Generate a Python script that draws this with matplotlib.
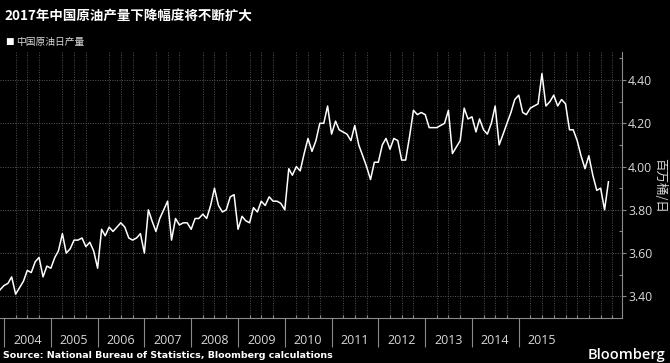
import matplotlib
matplotlib.use("Agg")
import matplotlib.pyplot as plt
import matplotlib.dates as mdates
import pandas as pd

# monthly crude output, million barrels per day
start_month = "2003-12-01"
output_mbd = [
    3.43, 3.45, 3.46, 3.49, 3.41, 3.44, 3.47, 3.52, 3.51, 3.56, 3.58, 3.49,
    3.54, 3.53, 3.58, 3.61, 3.69, 3.60, 3.62, 3.66, 3.66, 3.67, 3.63, 3.65,
    3.61, 3.53, 3.71, 3.68, 3.72, 3.70, 3.72, 3.74, 3.72, 3.67,
    3.66, 3.67, 3.69, 3.60, 3.80, 3.75, 3.70, 3.76, 3.80, 3.84, 3.66, 3.76,
    3.73, 3.74, 3.74, 3.71, 3.76, 3.76, 3.78, 3.76, 3.82, 3.90, 3.82, 3.79,
    3.80, 3.86, 3.87, 3.71, 3.77, 3.75, 3.74, 3.81,
    3.79, 3.84, 3.82, 3.86, 3.84, 3.84, 3.83, 3.80, 3.99, 3.96, 4.00, 3.98,
    4.06, 4.13, 4.07, 4.12, 4.20, 4.20, 4.28, 4.15, 4.21, 4.17, 4.16, 4.15,
    4.12, 4.19, 4.10, 4.05, 4.00, 3.94, 4.02, 4.02,
    4.10, 4.13, 4.08, 4.13, 4.12, 4.03, 4.03, 4.14, 4.26, 4.24, 4.25, 4.24,
    4.18, 4.18, 4.18, 4.19, 4.20, 4.26, 4.06, 4.09, 4.12, 4.27, 4.22, 4.23,
    4.16, 4.22, 4.17, 4.15, 4.20, 4.28, 4.10,
    4.15, 4.20, 4.25, 4.31, 4.33, 4.25, 4.24, 4.27, 4.28, 4.29, 4.43, 4.28,
    4.30, 4.33, 4.28, 4.31, 4.29, 4.17, 4.17, 4.12, 4.05, 3.99, 4.05, 3.96,
    3.89, 3.90, 3.80, 3.93,
]
months = pd.date_range(start_month, periods=len(output_mbd), freq="MS")

year_labels = list(range(2004, 2016))
y_ticks = [3.40, 3.60, 3.80, 4.00, 4.20, 4.40]

title = "2017年中国原油产量下降幅度将不断扩大"
series_name = "中国原油日产量"
unit = "百万桶/日"
source = "Source: National Bureau of Statistics, Bloomberg calculations"

cjk = ["Noto Sans CJK SC", "DejaVu Sans"]
grey = "#8a8a8a"
txt = "#d8d8d8"

fig = plt.figure(figsize=(6.7, 3.63), dpi=100, facecolor="black")
ax = fig.add_axes([0.0, 0.124, 0.928, 0.733], facecolor="black")

ax.plot(months, output_mbd, color="white", lw=1.1)

ax.set_xlim(months[0], pd.Timestamp("2017-03-15"))
ax.set_ylim(3.30, 4.53)

# x: long year ticks, quarterly grid, labels centred in each year
ax.set_xticks([pd.Timestamp(f"{y}-01-01") for y in year_labels])
ax.xaxis.set_major_formatter(plt.NullFormatter())
ax.xaxis.set_minor_locator(mdates.MonthLocator(bymonth=[1, 4, 7, 10]))
ax.tick_params(axis="x", which="major", direction="out", length=21,
               width=0.8, color=grey)
ax.tick_params(axis="x", which="minor", direction="in", length=2.5,
               width=0.8, color=grey)
for y in year_labels:
    ax.text(pd.Timestamp(f"{y}-07-01"), -0.083, str(y),
            transform=ax.get_xaxis_transform(), ha="center", va="center",
            color=txt, fontsize=9, family="Open Sans")

# y on the right
ax.yaxis.tick_right()
ax.set_yticks(y_ticks)
ax.set_yticks([3.5, 3.7, 3.9, 4.1, 4.3, 4.5], minor=True)
ax.set_yticklabels([f"{v:.2f}" for v in y_ticks], color=txt, fontsize=8.8,
                   family="Open Sans")
ax.tick_params(axis="y", which="major", direction="out", length=3,
               width=0.8, color=grey, pad=1.5)
ax.tick_params(axis="y", which="minor", direction="in", length=2.5,
               width=0.8, color=grey)

ax.grid(True, which="minor", axis="x", color="#505050", ls=(0, (1, 1.5)), lw=0.7)
ax.grid(True, which="major", axis="y", color="#5a5a5a", ls=(0, (1, 1.5)), lw=0.7)

for side in ("top", "left"):
    ax.spines[side].set_visible(False)
for side in ("bottom", "right"):
    ax.spines[side].set_color(grey)
    ax.spines[side].set_linewidth(0.8)

fig.text(0.984, 0.49, unit, rotation=270, ha="center", va="center",
         color=txt, fontsize=9, family=cjk)

fig.text(0.007, 0.953, title, ha="left", va="center", color="white",
         fontsize=9.7, fontweight="bold", family=cjk)
fig.text(0.007, 0.885, "■", ha="left", va="center", color="white",
         fontsize=6.5, family="DejaVu Sans")
fig.text(0.024, 0.885, series_name, ha="left", va="center", color=txt,
         fontsize=7, family=cjk)

fig.text(0.005, 0.02, source, ha="left", va="center", color="white",
         fontsize=6.8, fontweight="bold", family="DejaVu Sans")
fig.text(0.993, 0.022, "Bloomberg", ha="right", va="center", color="white",
         fontsize=10.5, fontweight="semibold", family="Open Sans")

fig.savefig("out.png", dpi=100, facecolor="black")
